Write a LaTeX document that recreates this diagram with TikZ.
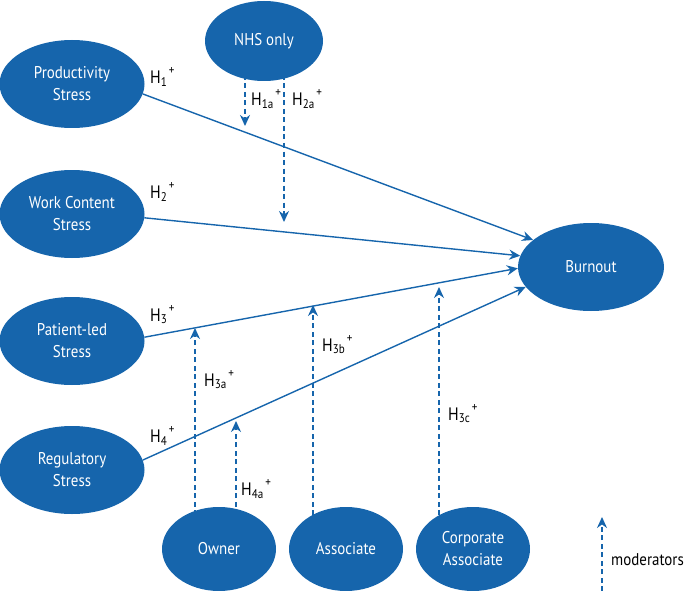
\documentclass[tikz,border=0pt]{standalone}
\usepackage{fontspec}
\setmainfont{PT Sans}[FakeStretch=0.88]
\usetikzlibrary{shapes.geometric,arrows.meta,backgrounds}
\definecolor{nhsblue}{RGB}{22,101,172}
\tikzset{
  var/.style={ellipse,fill=nhsblue,draw=none,inner sep=0pt,text=white,align=center,
    font=\fontsize{17}{22}\selectfont},
  big/.style={var,minimum width=145pt,minimum height=88pt},
  small/.style={var,minimum width=114pt,minimum height=84pt},
  path/.style={draw=nhsblue,line width=1.4pt,-{Stealth[length=11pt,width=10pt]}},
  modpath/.style={draw=nhsblue,line width=1.4pt,dash pattern=on 5pt off 3.5pt,-{Stealth[length=11pt,width=10pt]}},
  hlab/.style={text=black,inner sep=0pt,anchor=west,font=\fontsize{18}{20}\selectfont}
}
\newcommand{\hyp}[1]{H\textsubscript{#1}\kern1.5pt\raisebox{2pt}{\textsuperscript{+}}}
\begin{document}
\begin{tikzpicture}[x=1pt,y=-1pt]
\useasboundingbox (0,0) rectangle (685,591);
\node[big] (prod) at (72,84) {Productivity\\Stress};
\node[big] (work) at (72,214) {Work Content\\Stress};
\node[big] (pat) at (72,341) {Patient-led\\Stress};
\node[big] (reg) at (72,470) {Regulatory\\Stress};
\node[var,minimum width=118pt,minimum height=80pt] (nhs) at (264,41) {NHS only};
\node[big,minimum width=146pt] (burn) at (591,267) {Burnout};
\node[small] (own) at (219,549) {Owner};
\node[small] (ass) at (346,549) {Associate};
\node[small] (corp) at (473,549) {Corporate\\Associate};
% moderator target points
\coordinate (t1a) at (245,126);
\coordinate (t2a) at (284,222);
\coordinate (t3a) at (195,328);
\coordinate (t4a) at (236,421);
\coordinate (t3b) at (313,305);
\coordinate (t3c) at (439,287);
\coordinate (lgA) at (602,591);
\coordinate (lgB) at (602,517);
\begin{pgfonlayer}{background}
\draw[path] (prod.-8) -- (burn.155);
\draw[path] (work.-3) -- (burn.171);
\draw[path] (pat.3) -- (burn.181);
\draw[path] (reg.8) -- (burn.197);
\draw[modpath] (t1a |- nhs) -- (t1a);
\draw[modpath] (t2a |- nhs) -- (t2a);
\draw[modpath] (t3a |- own) -- (t3a);
\draw[modpath] (t4a |- own) -- (t4a);
\draw[modpath] (t3b |- ass) -- (t3b);
\draw[modpath] (t3c |- corp) -- (t3c);
\draw[modpath] (lgA) -- (lgB);
\end{pgfonlayer}
\node[hlab] (h1) at (150,77) {\hyp{1}};
\node[hlab] (h1a) at (251,99) {\hyp{1a}};
\node[hlab] (h2a) at (292,99) {\hyp{2a}};
\node[hlab] (h2) at (150,192) {\hyp{2}};
\node[hlab] (h3) at (150,315) {\hyp{3}};
\node[hlab] (h3a) at (204,380) {\hyp{3a}};
\node[hlab] (h3b) at (322,345) {\hyp{3b}};
\node[hlab] (h4) at (150,436) {\hyp{4}};
\node[hlab] (h4a) at (241,489) {\hyp{4a}};
\node[hlab] (h3c) at (448,414) {\hyp{3c}};
\node[hlab,font=\fontsize{17}{19}\selectfont] (mod) at (611,560) {moderators};
\end{tikzpicture}
\end{document}
